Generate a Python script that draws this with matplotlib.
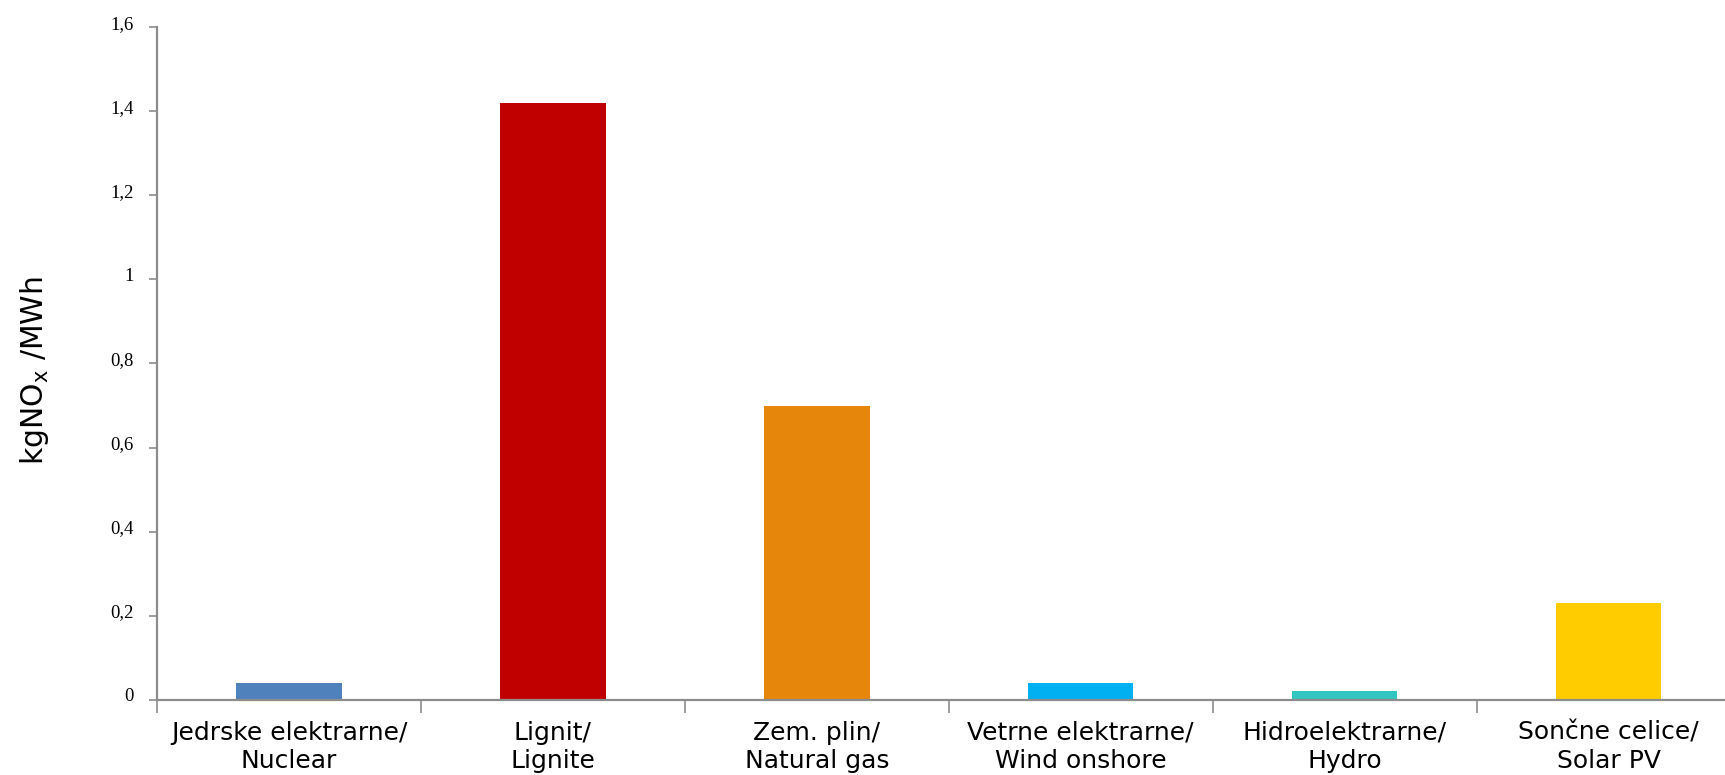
import numpy as np
import matplotlib
matplotlib.use("Agg")
import matplotlib.pyplot as plt
from matplotlib import transforms

# NOx emissions per MWh by generation source
categories = ["Jedrske elektrarne/\nNuclear", "Lignit/\nLignite", "Zem. plin/\nNatural gas",
              "Vetrne elektrarne/\nWind onshore", "Hidroelektrarne/\nHydro", "Sončne celice/\nSolar PV"]
values = [0.04, 1.42, 0.70, 0.04, 0.02, 0.23]
colors = ["#4F81BD", "#C00000", "#E6860B", "#00B0F0", "#33C6C0", "#FFCC00"]
yticks = [0, 0.2, 0.4, 0.6, 0.8, 1.0, 1.2, 1.4, 1.6]
ytick_labels = ["0", "0,2", "0,4", "0,6", "0,8", "1", "1,2", "1,4", "1,6"]

fig = plt.figure(figsize=(17.25, 7.75), dpi=100)
ax = fig.add_axes([0.091, 0.097, 0.918, 0.868])

x = np.arange(len(categories))
ax.bar(x, values, width=0.4, color=colors, linewidth=0, zorder=2)

ax.set_xlim(-0.5, len(categories) - 0.5)
ax.set_ylim(0, 1.6)

axis_grey = "#8C8C8C"
for s in ["top", "right"]:
    ax.spines[s].set_visible(False)
for s in ["left", "bottom"]:
    ax.spines[s].set_color(axis_grey)
    ax.spines[s].set_linewidth(1.6)

# y ticks, serif labels sitting slightly above the tick
ax.set_yticks(yticks)
ax.set_yticklabels(ytick_labels, family="Liberation Serif", fontsize=13.5)
ax.tick_params(axis="y", direction="out", length=6, width=1.2, color=axis_grey, pad=11)
shift = transforms.ScaledTranslation(0, 5 / 100, fig.dpi_scale_trans)
for lbl in ax.get_yticklabels():
    lbl.set_transform(lbl.get_transform() + shift)

# category labels centred, tick marks on the boundaries
ax.set_xticks(x)
ax.set_xticklabels(categories, fontsize=18, linespacing=1.25)
ax.tick_params(axis="x", which="major", length=0, pad=15)
ax.set_xticks(np.arange(len(categories) + 1) - 0.5, minor=True)
ax.tick_params(axis="x", which="minor", direction="out", length=9, width=1.2, color=axis_grey)

ax.set_ylabel("kgNO$_\\mathregular{x}$ /MWh", fontsize=21.5)
ax.yaxis.set_label_coords(-0.067, 0.49)

fig.savefig("out.png", dpi=100)
